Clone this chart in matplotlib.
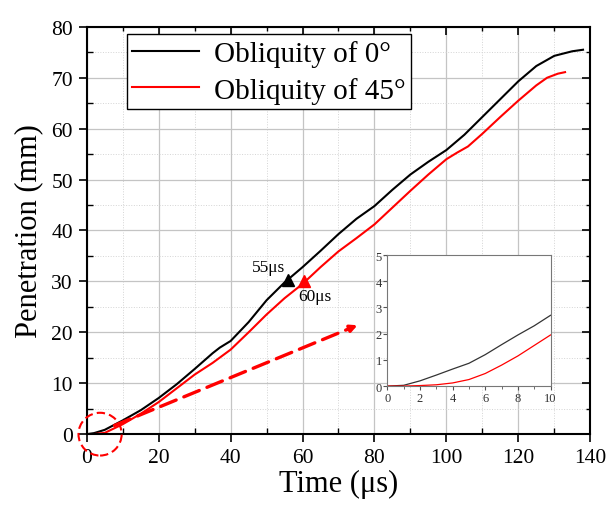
import matplotlib
matplotlib.use("Agg")
import matplotlib.pyplot as plt
from matplotlib.patches import Ellipse, FancyArrowPatch
from matplotlib.ticker import MultipleLocator

plt.rcParams['font.family'] = ['Liberation Serif', 'DejaVu Serif']

# Main data
t0 = [0, 2, 5, 10, 15, 20, 25, 30, 35, 37, 40, 45, 50, 55, 57, 60, 65, 70, 75, 80,
      85, 90, 95, 100, 105, 110, 115, 120, 125, 130, 135, 138]
p0 = [0, 0.2, 0.85, 2.7, 4.7, 7.1, 9.8, 12.8, 15.9, 17.0, 18.3, 22.0, 26.3, 29.8, 31.0,
      32.8, 36.0, 39.3, 42.3, 44.8, 48.0, 51.0, 53.5, 55.8, 58.8, 62.3, 65.8, 69.3,
      72.3, 74.3, 75.2, 75.5]
t45 = [0, 2, 5, 10, 15, 20, 25, 30, 35, 40, 45, 50, 55, 60, 65, 70, 75, 80, 85, 90,
       95, 100, 103, 106, 110, 115, 120, 125, 128, 131, 133]
p45 = [0, 0.02, 0.25, 1.95, 4.0, 6.3, 9.0, 11.7, 14.0, 16.6, 20.0, 23.5, 26.7, 29.5,
       32.8, 35.9, 38.5, 41.2, 44.5, 47.8, 51.0, 54.0, 55.3, 56.5, 59.0, 62.3, 65.5,
       68.5, 70.0, 70.8, 71.1]

# Inset data (0-10 us)
ti = [0, 1, 2, 3, 4, 5, 6, 7, 8, 9, 10]
pi0 = [0, 0.03, 0.2, 0.42, 0.65, 0.87, 1.2, 1.58, 1.95, 2.3, 2.7]
pi45 = [0, 0.0, 0.02, 0.05, 0.12, 0.25, 0.48, 0.8, 1.15, 1.55, 1.95]

labels = ['Obliquity of 0°', 'Obliquity of 45°']
mark_t = [56, 60.3]
mark_p = [30.3, 30.0]
mark_txt = ['55μs', '60μs']

fig = plt.figure(figsize=(6.11, 5.06), dpi=100)
rect = [0.142, 0.140, 0.824, 0.805]
ax = fig.add_axes(rect)
ax.plot(t0, p0, color='black', lw=1.5, label=labels[0])
ax.plot(t45, p45, color='red', lw=1.5, label=labels[1])
ax.set_xlim(0, 140)
ax.set_ylim(0, 80)
ax.xaxis.set_major_locator(MultipleLocator(20))
ax.xaxis.set_minor_locator(MultipleLocator(10))
ax.yaxis.set_major_locator(MultipleLocator(10))
ax.yaxis.set_minor_locator(MultipleLocator(5))
ax.grid(True, which='major', color='#c4c4c4', lw=0.9)
ax.grid(True, which='minor', color='#d4d4d4', lw=0.7, ls=':')
ax.set_axisbelow(True)
ax.tick_params(which='major', direction='out', length=6, width=1.2, labelsize=15.5, pad=4)
ax.tick_params(which='minor', direction='in', length=4, width=1.0)
for s in ax.spines.values():
    s.set_linewidth(1.5)
ax.set_xlabel('Time (μs)', fontsize=22, labelpad=1)
ax.set_ylabel('Penetration (mm)', fontsize=22, labelpad=6)

# top/right inward ticks
ax2 = fig.add_axes(rect, sharex=ax, sharey=ax, frameon=False)
ax2.patch.set_visible(False)
ax2.tick_params(which='both', direction='in', top=True, right=True, bottom=False,
                left=False, labeltop=False, labelright=False, labelbottom=False,
                labelleft=False)
ax2.tick_params(which='major', length=6, width=1.2)
ax2.tick_params(which='minor', length=3, width=1.0)

leg = ax.legend(loc='upper left', bbox_to_anchor=(0.079, 0.982), fontsize=21,
                frameon=True, fancybox=False, edgecolor='black', framealpha=1,
                handlelength=2.3, handletextpad=0.5, borderpad=0.2, labelspacing=0.33,
                borderaxespad=0)
leg.get_frame().set_linewidth(1.0)

ax.plot(mark_t[0], mark_p[0], marker='^', color='black', ms=9)
ax.plot(mark_t[1], mark_p[1], marker='^', color='red', ms=9)
ax.text(mark_t[0] - 0.8, mark_p[0] + 1.0, mark_txt[0], fontsize=12.5, ha='right', va='bottom')
ax.text(mark_t[1] - 1.6, mark_p[1] - 1.3, mark_txt[1], fontsize=12.5, ha='left', va='top')

circ = Ellipse((3.7, 0), width=12, height=8.4, fill=False, edgecolor='red',
               ls=(0, (4, 2)), lw=1.5, clip_on=False, zorder=5)
ax.add_patch(circ)
arr = FancyArrowPatch((7, 1.5), (76, 21.6), arrowstyle='-|>', mutation_scale=10,
                      color='red', lw=2.4, ls=(0, (5, 2.5)), zorder=5)
ax.add_patch(arr)

axi = fig.add_axes([0.634, 0.235, 0.267, 0.259])
axi.plot(ti, pi0, color='#333333', lw=0.9)
axi.plot(ti, pi45, color='red', lw=0.9)
axi.set_xlim(0, 10)
axi.set_ylim(0, 5)
axi.xaxis.set_major_locator(MultipleLocator(2))
axi.xaxis.set_minor_locator(MultipleLocator(1))
axi.yaxis.set_major_locator(MultipleLocator(1))
axi.tick_params(which='both', direction='out', labelsize=9, colors='#555555', length=3)
axi.tick_params(which='minor', length=2)
axi.tick_params(labelcolor='#333333', pad=1)
for s in axi.spines.values():
    s.set_color('#777777')
    s.set_linewidth(0.8)

fig.savefig('out.png', dpi=100)
